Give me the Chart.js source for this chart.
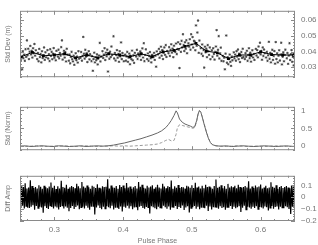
<!DOCTYPE html>
<html lang="en">
<head>
<meta charset="UTF-8">
<title>Pulse Phase Stats</title>
<style>
  body { margin: 0; width: 318px; height: 245px; overflow: hidden; background: #fff; }
  .panel { position: absolute; left: 0; width: 318px; }
  #p1 { top: 0; height: 88px; }
  #p2 { top: 96px; height: 65px; }
  #p3 { top: 165px; height: 80px; }
</style>
<script src="https://cdn.jsdelivr.net/npm/chart.js"></script>
</head>
<body>
<div class="panel" id="p1"><canvas id="devChart"></canvas></div>
<div class="panel" id="p2"><canvas id="profChart"></canvas></div>
<div class="panel" id="p3"><canvas id="ampChart"></canvas></div>
<script>
// single-pulse std dev, [phase*1000, value*1e4]
const devPoints = [
  [250,392],[251,345],[252,371],[253,287],[254,402],[255,358],[256,381],[257,341],[258,415],[259,366],[260,471],
  [261,376],[262,418],[263,352],[264,399],[265,436],[266,381],[267,405],[268,362],[269,421],[270,389],[271,448],[272,374],[273,408],
  [275,352],[276,391],[277,338],[278,417],[279,365],[280,384],[281,331],[282,402],[283,359],[284,376],[285,426],[286,347],[287,395],[288,363],
  [290,409],[291,356],[292,383],[293,340],[294,415],[295,372],[296,398],[297,351],[298,386],[299,422],[300,361],[301,379],[302,344],[303,405],
  [305,368],[306,412],[307,357],[308,391],[309,374],[310,428],[311,471],[312,349],[313,383],[314,405],[315,362],[316,396],[317,337],[318,418],[319,380],
  [321,342],[322,381],[323,325],[324,366],[325,398],[326,351],[327,337],[328,374],[329,316],[330,359],[331,389],[332,345],[333,368],[334,330],[335,402],[336,355],
  [338,361],[339,397],[340,342],[341,372],[342,493],[343,386],[344,355],[345,411],[346,368],[347,389],[348,333],[349,376],[350,402],[351,350],[352,383],
  [354,339],[355,371],[356,278],[357,352],[358,393],[359,331],[360,364],[361,345],[362,382],[363,318],[364,356],[365,375],[366,455],[367,337],[368,368],
  [370,402],[371,359],[372,381],[373,421],[374,346],[375,393],[376,370],[377,412],[378,273],[379,387],[380,354],[381,399],[382,365],[383,432],[384,377],[386,497],
  [387,356],[388,391],[389,343],[390,378],[391,409],[392,361],[393,384],[394,335],[395,402],[396,369],[397,458],[398,352],[399,391],[400,374],[401,338],
  [403,381],[404,342],[405,369],[406,398],[407,335],[408,362],[409,387],[410,319],[411,373],[412,351],[413,406],[414,344],[415,376],[416,328],[417,392],
  [419,369],[420,411],[421,353],[422,388],[423,376],[424,372],[425,401],[426,347],[427,385],[428,420],[429,362],[430,453],[431,339],[432,379],[433,414],
  [435,352],[436,388],[437,341],[438,372],[439,397],[440,358],[441,331],[442,379],[443,372],[444,365],[445,392],[446,347],[447,374],[448,304],[449,401],
  [451,382],[452,417],[453,361],[454,398],[455,431],[456,374],[457,409],[458,352],[459,393],[460,426],[461,379],[462,441],[463,366],[464,404],
  [466,389],[467,428],[468,372],[469,411],[470,446],[471,393],[472,419],[473,364],[474,437],[475,402],[476,398],[477,451],[478,384],[479,416],[480,459],
  [481,412],[482,295],[483,447],[484,398],[485,468],[486,426],[487,510],[488,441],[489,403],[490,459],[491,418],[492,472],[493,389],[494,436],[495,452],
  [496,431],[497,478],[498,412],[499,510],[500,445],[501,492],[502,426],[503,468],[504,464],[505,408],[506,566],[507,437],[508,521],[509,597],[510,392],[511,470],
  [513,421],[514,386],[515,445],[516,372],[517,410],[518,298],[519,431],[520,395],[521,418],[522,364],[523,441],[524,402],[525,379],[526,426],[527,351],
  [529,408],[530,367],[531,421],[532,385],[533,349],[534,398],[535,432],[536,536],[537,374],[538,411],[539,498],[540,356],[541,389],[542,425],[543,341],
  [545,372],[546,338],[547,361],[548,287],[549,387],[550,502],[551,329],[552,364],[553,319],[554,352],[555,381],[556,335],[557,309],[558,368],[559,344],
  [561,395],[562,357],[563,381],[564,342],[565,402],[566,368],[567,413],[568,351],[569,386],[570,333],[571,374],[572,397],[573,359],[574,418],[575,365],
  [577,352],[578,389],[579,367],[580,405],[581,341],[582,379],[583,421],[584,358],[585,393],[586,336],[587,372],[588,408],[589,362],[590,384],[591,347],
  [593,417],[594,375],[595,409],[596,363],[597,432],[598,391],[599,456],[600,382],[601,404],[602,348],[603,426],[604,372],[605,413],[606,389],
  [608,362],[609,398],[610,341],[611,376],[612,462],[613,354],[614,392],[615,331],[616,385],[617,411],[618,347],[619,372],[620,403],[621,323],
  [622,460],[623,352],[624,389],[625,331],[626,374],[627,408],[628,343],[629,381],[630,456],[631,318],[632,367],[633,395],[634,338],[635,379],[636,412],
  [638,357],[639,391],[640,322],[641,374],[642,453],[643,346],[644,383],[645,409],[646,335],[647,366],[648,312],[649,388]
];

// binned average
const binPhase = [0.252,0.268,0.284,0.300,0.315,0.331,0.347,0.363,0.379,0.395,0.410,0.426,0.442,
                  0.458,0.474,0.490,0.506,0.521,0.537,0.553,0.569,0.585,0.600,0.616,0.632,0.648];
const binDev = [0.0367,0.0395,0.0373,0.0378,0.0386,0.0360,0.0378,0.0360,0.0386,0.0378,0.0367,0.0386,0.0367,
                0.0398,0.0407,0.0433,0.0452,0.0403,0.0392,0.0355,0.0378,0.0378,0.0398,0.0381,0.0378,0.0378];

// normalised profiles
const profPhase = [0.250,0.258,0.266,0.274,0.282,0.290,0.298,0.306,0.314,0.322,
                   0.330,0.338,0.346,0.354,0.362,0.370,0.378,0.386,0.394,0.402,
                   0.410,0.418,0.426,0.434,0.442,0.450,0.456,0.462,0.466,0.470,
                   0.474,0.477,0.479,0.482,0.486,0.490,0.494,0.498,0.501,0.504,
                   0.507,0.509,0.511,0.513,0.515,0.518,0.521,0.524,0.527,0.530,
                   0.535,0.542,0.550,0.558,0.566,0.574,0.582,0.590,0.598,0.606,
                   0.614,0.622,0.630,0.638,0.646,0.650];
const profSolid = [0.00,0.01,-0.01,0.00,0.01,0.00,-0.01,0.01,0.00,-0.01,
                   0.00,0.01,-0.01,0.00,0.01,0.00,0.01,0.03,0.06,0.09,
                   0.13,0.17,0.21,0.26,0.31,0.37,0.43,0.52,0.61,0.72,
                   0.86,0.99,0.93,0.76,0.67,0.62,0.59,0.56,0.53,0.54,
                   0.72,0.90,1.00,0.95,0.82,0.60,0.40,0.22,0.10,0.04,
                   0.01,0.00,0.01,-0.01,0.00,0.01,0.00,-0.01,0.00,0.01,
                   0.00,-0.01,0.00,0.01,-0.01,0.00];
const profDashed = [0.00,-0.01,0.00,0.01,0.00,-0.01,0.00,0.00,0.01,0.00,
                    -0.01,0.00,0.01,0.00,-0.01,0.00,0.00,0.01,0.00,0.01,
                    0.00,0.01,0.02,0.03,0.04,0.06,0.10,0.16,0.19,0.15,
                    0.16,0.33,0.52,0.60,0.58,0.56,0.54,0.52,0.50,0.52,
                    0.70,0.89,0.99,0.95,0.83,0.62,0.41,0.23,0.10,0.04,
                    0.01,0.00,-0.01,0.00,0.01,0.00,-0.01,0.00,0.00,-0.01,
                    0.00,0.01,0.00,-0.01,0.00,0.00];

// difference amplitude per phase bin (x1000), bins start at 0.25, step 0.00125
const residStart = 0.25;
const residStep = 0.00125;
const resid = [
  78,-84,92,-71,86,-95,118,-76,73,-88, 81,-90,142,-79,94,-68,77,-105,85,-74,
  72,-93,101,-80,88,-86,70,-131,96,-75, 83,-91,76,-99,89,-72,124,-82,79,-94,
  97,-78,69,-87,92,-103,74,-83,138,-72, 86,-95,80,-77,104,-88,71,-117,84,-90,
  93,-73,85,-98,76,-82,112,-69,91,-101, 75,-86,128,-79,89,-95,80,-71,99,-89,
  84,-106,70,-81,97,-75,87,-146,78,-86, 109,-70,80,-91,72,-100,92,-80,85,-96,
  88,-76,151,-84,74,-92,98,-72,81,-104, 79,-88,94,-83,71,-99,103,-77,86,-121,
  98,-80,76,-89,119,-71,82,-95,90,-75, 70,-102,84,-86,94,-79,74,-109,128,-81,
  87,-73,105,-90,80,-97,72,-83,96,-86, 81,-136,90,-76,100,-85,71,-93,84,-101,
  104,-79,82,-88,73,-95,114,-72,89,-84, 76,-96,93,-77,85,-105,140,-81,71,-89,
  91,-74,80,-99,102,-82,77,-90,86,-70, 84,-108,72,-86,96,-76,89,-128,80,-92,
  101,-84,78,-73,122,-96,82,-80,90,-100, 74,-88,97,-83,76,-92,105,-72,85,-116,
  90,-77,82,-103,71,-85,94,-81,148,-88, 80,-97,87,-75,100,-90,76,-84,93,-106,
  70,-83,112,-89,81,-73,92,-99,84,-80, 97,-92,75,-84,104,-76,86,-125,79,-88,
  85,-72,94,-104,82,-81,134,-86,73,-96, 89,-80,78,-90,99,-75,84,-100,90,-82,
  106,-86,72,-95,81,-77,96,-85,76,-111, 82,-89,125,-73,87,-97,80,-83,101,-78,
  71,-104,86,-81,94,-88,77,-92,85,-76, 93,-84,82,-99,75,-142,103,-80,89,-86
];

// tick labels
const phaseLabels = [0.3, 0.4, 0.5, 0.6];
const devLabels = [0.03, 0.04, 0.05, 0.06];
const normLabels = [0, 0.5, 1];
const ampLabels = [-0.2, -0.1, 0, 0.1];

const AXIS = '#8a8a8a';
const TEXT = '#777';
const FONT = 'Liberation Sans, Arial, sans-serif';

function tickList(lo, hi, step) {
  const out = [];
  for (let k = Math.ceil(lo / step - 1e-9); k * step <= hi + 1e-9; k++) {
    out.push({ value: Math.round(k * step * 1e6) / 1e6 });
  }
  return out;
}
function labelFrom(list) {
  return v => {
    const hit = list.find(t => Math.abs(t - v) < 1e-9);
    return hit === undefined ? '' : String(hit).replace('-', '\u2212');
  };
}

// box frame with pgplot-style inward ticks
const frameTicks = {
  id: 'frameTicks',
  afterDatasetsDraw(chart, args, opts) {
    const { ctx, chartArea: a, scales } = chart;
    const isMaj = (v, s) => Math.abs(v / s - Math.round(v / s)) < 1e-6;
    ctx.save();
    ctx.strokeStyle = AXIS;
    ctx.lineWidth = 1;
    ctx.strokeRect(a.left + 0.5, a.top + 0.5, a.right - a.left - 1, a.bottom - a.top - 1);
    ctx.beginPath();
    scales.x.ticks.forEach(t => {
      const px = Math.round(scales.x.getPixelForValue(t.value)) + 0.5;
      const len = isMaj(t.value, opts.xMajor) ? 4 : 2;
      ctx.moveTo(px, a.bottom); ctx.lineTo(px, a.bottom - len);
      ctx.moveTo(px, a.top); ctx.lineTo(px, a.top + len);
    });
    scales.y.ticks.forEach(t => {
      const py = Math.round(scales.y.getPixelForValue(t.value)) + 0.5;
      const len = isMaj(t.value, opts.yMajor) ? 4 : 2;
      ctx.moveTo(a.left, py); ctx.lineTo(a.left + len, py);
      ctx.moveTo(a.right, py); ctx.lineTo(a.right - len, py);
    });
    ctx.stroke();
    ctx.restore();
  }
};

function makeOptions(cfg) {
  return {
    responsive: true,
    maintainAspectRatio: false,
    animation: false,
    layout: { padding: { top: 3, bottom: cfg.padBottom, left: 0, right: 0 } },
    plugins: {
      legend: { display: false },
      tooltip: { enabled: false },
      frameTicks: { xMajor: 0.1, yMajor: cfg.yMajor }
    },
    scales: {
      x: {
        type: 'linear', min: 0.25, max: 0.65,
        afterBuildTicks: s => { s.ticks = tickList(0.25, 0.65, 0.02); },
        afterFit: s => { s.height = cfg.xHeight; },
        grid: { display: false, drawTicks: false },
        border: { display: false },
        ticks: {
          display: cfg.xLabels, autoSkip: false, maxRotation: 0, padding: 4,
          color: TEXT, font: { family: FONT, size: 8 },
          callback: labelFrom(phaseLabels)
        },
        title: {
          display: cfg.xLabels, text: 'Pulse Phase', color: TEXT,
          font: { family: FONT, size: 7 }, padding: 0
        }
      },
      y: {
        type: 'linear', position: 'right', min: cfg.yMin, max: cfg.yMax,
        afterBuildTicks: s => { s.ticks = tickList(cfg.yMin, cfg.yMax, cfg.yMinor); },
        afterFit: s => { s.width = 23; },
        grid: { display: false, drawTicks: false },
        border: { display: false },
        ticks: {
          autoSkip: false, padding: 6, color: TEXT,
          font: { family: FONT, size: 8 },
          callback: labelFrom(cfg.yLabels)
        }
      },
      yl: {
        type: 'linear', position: 'left', min: cfg.yMin, max: cfg.yMax,
        afterFit: s => { s.width = 20; },
        grid: { display: false, drawTicks: false },
        border: { display: false },
        ticks: { display: false },
        title: {
          display: true, text: cfg.yTitle, color: TEXT,
          font: { family: FONT, size: 7 }, padding: { top: 4, bottom: 0 }
        }
      }
    }
  };
}

new Chart(document.getElementById('devChart'), {
  type: 'scatter',
  data: {
    datasets: [
      {
        data: binPhase.map((p, i) => ({ x: p, y: binDev[i] })),
        showLine: true, borderColor: '#000', borderWidth: 1,
        pointStyle: 'rect', pointRadius: 2, backgroundColor: '#000', pointBorderWidth: 0
      },
      {
        data: devPoints.map(d => ({ x: d[0] / 1000, y: d[1] / 10000 })),
        pointStyle: 'star', pointRadius: 1.2, borderColor: '#444', borderWidth: 0.8
      }
    ]
  },
  options: makeOptions({ padBottom: 3, xHeight: 0, xLabels: false, yMin: 0.0237, yMax: 0.0659,
                         yMinor: 0.002, yMajor: 0.01, yLabels: devLabels, yTitle: 'Std Dev (m)' }),
  plugins: [frameTicks]
});

new Chart(document.getElementById('profChart'), {
  type: 'scatter',
  data: {
    datasets: [
      {
        data: profPhase.map((p, i) => ({ x: p, y: profSolid[i] })),
        showLine: true, borderColor: '#666', borderWidth: 1, pointRadius: 0
      },
      {
        data: profPhase.map((p, i) => ({ x: p, y: profDashed[i] })),
        showLine: true, borderColor: '#999', borderWidth: 1, borderDash: [3, 2], pointRadius: 0
      }
    ]
  },
  options: makeOptions({ padBottom: 3, xHeight: 0, xLabels: false, yMin: -0.113, yMax: 1.103,
                         yMinor: 0.1, yMajor: 0.5, yLabels: normLabels, yTitle: 'Std (Norm)' }),
  plugins: [frameTicks]
});

new Chart(document.getElementById('ampChart'), {
  type: 'scatter',
  data: {
    datasets: [{
      data: resid.map((v, i) => ({ x: residStart + i * residStep, y: v / 1000 })),
      showLine: true, borderColor: '#000', borderWidth: 1.2, pointRadius: 0
    }]
  },
  options: makeOptions({ padBottom: 0, xHeight: 24, xLabels: true, yMin: -0.2, yMax: 0.18,
                         yMinor: 0.02, yMajor: 0.1, yLabels: ampLabels, yTitle: 'Diff Amp' }),
  plugins: [frameTicks]
});
</script>
</body>
</html>
